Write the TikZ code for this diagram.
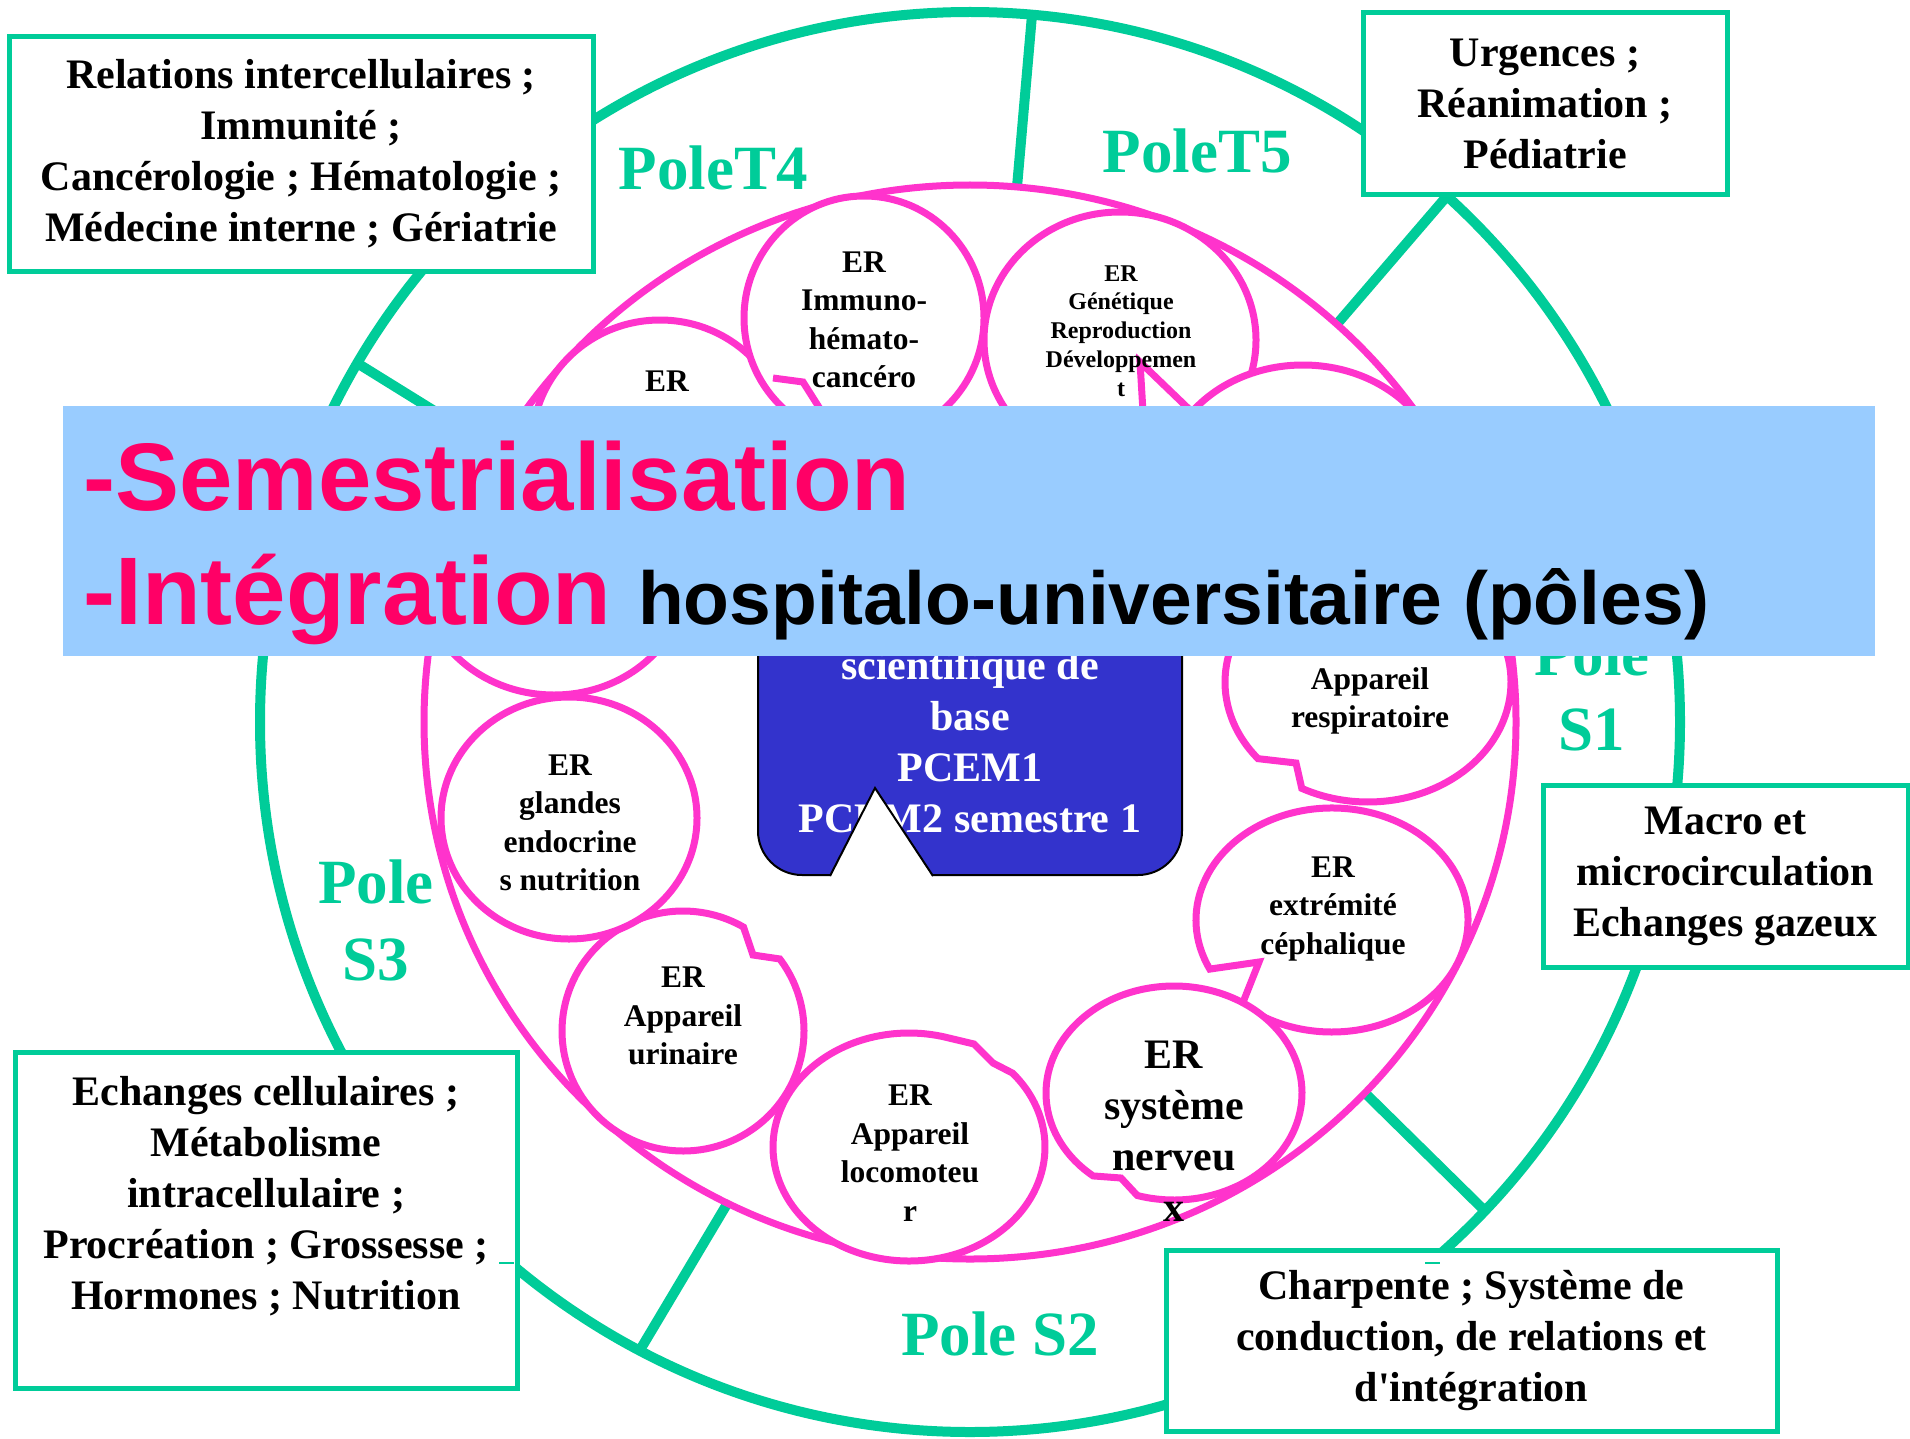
\documentclass[tikz,border=0pt]{standalone}
\usepackage{fontspec}
\setmainfont{Liberation Serif}[Ligatures=TeXOff]
\newfontfamily\arialfont{Liberation Sans}
\definecolor{poleg}{RGB}{0,204,153}
\definecolor{mag}{RGB}{255,51,204}
\definecolor{boxblue}{RGB}{51,51,204}
\definecolor{bannerblue}{RGB}{153,204,255}
\definecolor{titlered}{RGB}{255,0,102}
\newcommand\mybig{\fontsize{21}{25.5}\selectfont\bfseries}
\newcommand\mymed{\fontsize{15.75}{19.25}\selectfont\bfseries}
\newcommand\mysmall{\fontsize{12}{14.4}\selectfont\bfseries}
\newcommand\mypole{\fontsize{31.5}{38.5}\selectfont\bfseries}
\tikzset{
  gline/.style={draw=poleg, line width=5pt},
  ring/.style={draw=mag, line width=3.5pt},
  bub/.style={draw=mag, line width=3.5pt, fill=white},
  gbox/.style={draw=poleg, line width=2.5pt, fill=white, inner sep=0pt, align=center, font=\mybig},
  poletxt/.style={text=poleg, font=\mypole, inner sep=0pt, anchor=base},
  ertxt/.style={font=\mymed, align=center, inner sep=0pt},
  ersmall/.style={font=\mysmall, align=center, inner sep=0pt},
  erbig/.style={font=\mybig, align=center, inner sep=0pt},
}
\begin{document}
\begin{tikzpicture}[x=0.5pt,y=-0.5pt]
\useasboundingbox (0,0) rectangle (1910,1439);
\fill[white] (0,0) rectangle (1910,1439);

% outer green circle and dividers
\coordinate (c) at (970,722);
\draw[gline] (c) circle[radius=710];
\coordinate (o1) at (1032,15);   \coordinate (i1) at (1017,187);
\coordinate (o2) at (357,363);   \coordinate (i2) at (499,451);
\coordinate (o3) at (1447,196);  \coordinate (i3) at (1337,324);
\coordinate (o4) at (1485,1211); \coordinate (i4) at (1364,1092);
\coordinate (o5) at (640,1350);  \coordinate (i5) at (727,1204);
\draw[gline] (o1) -- (i1);
\draw[gline] (o2) -- (i2);
\draw[gline] (o3) -- (i3);
\draw[gline] (o4) -- (i4);
\draw[gline] (o5) -- (i5);

% magenta ring
\draw[ring] (c) ellipse[x radius=546, y radius=537];

% bubbles
\path[bub] (554,575) ellipse[x radius=133, y radius=120];
\path[bub] (660,445) ellipse[x radius=128, y radius=125];
\path[bub] (864,318) ellipse[x radius=120, y radius=122];
\path[bub] (1120,340) ellipse[x radius=136, y radius=128];
\path[bub] (1303,485) ellipse[x radius=140, y radius=120];
\fill[white] (1140,362) -- (1143,412) -- (1192,412) -- cycle;
\draw[mag, line width=3.5pt, line join=miter] (1143,412) -- (1140,362) -- (1192,412);
\draw[mag, line width=3.5pt] (773,378) -- (803,382) -- (822,412);
\path[bub] (1368,682) ++(140.3:143 and 120) arc[start angle=140.3, end angle=477.6, x radius=143, y radius=120] -- (1296,763) -- cycle;
\path[bub] (1332,920) ++(154:136 and 112) arc[start angle=154, end angle=480, x radius=136, y radius=112] -- (1232,1030) -- (1259,962) -- cycle;
\path[bub] (1174,1093) ++(129.2:128 and 107) arc[start angle=129.2, end angle=466.7, x radius=128, y radius=107] -- (1121,1178) -- cycle;
\path[bub] (909,1147) ++(-40.4:136 and 114) arc[start angle=-40.4, end angle=287, x radius=136, y radius=114] -- (974,1044) -- (993,1063) -- cycle;
\path[bub] (683,1031) ++(-36.9:121 and 120) arc[start angle=-36.9, end angle=300, x radius=121, y radius=120] -- (753,955) -- cycle;
\path[bub] (569,818) ellipse[x radius=128, y radius=121];

% bubble texts
\node[ertxt] (erTL) at (667,381) {ER};
\node[ertxt] (erImm) at (864,320) {ER\\Immuno-\\hémato-\\cancéro};
\node[ersmall] (erGen) at (1121,331) {ER\\Génétique\\Reproduction\\Développemen\\t};
\node[ertxt] (erResp) at (1370,701) {Appareil\\respiratoire};
\node[ertxt] (erExt) at (1333,909) {ER\\extrémité\\céphalique};
\node[erbig] (erSys) at (1174,1131) {ER\\système\\nerveu\\x};
\node[ertxt] (erLoc) at (910,1153) {ER\\Appareil\\locomoteu\\r};
\node[ertxt] (erUri) at (683,1016) {ER\\Appareil\\urinaire};
\node[ertxt] (erGla) at (570,823) {ER\\glandes\\endocrine\\s nutrition};

% central blue box
\node[draw=black, line width=1pt, fill=boxblue, rounded corners=22pt, minimum width=212pt, minimum height=157.5pt, inner sep=0pt] (core) at (970,717.5) {};
\node[erbig, text=white] (coreTxt) at (970,741) {scientifique de\\base\\PCEM1\\PCEM2 semestre 1};
\fill[white] (829,879) -- (875,788) -- (934,879) -- cycle;
\draw[black, line width=1pt] (830,876) -- (875,788) -- (933,876);

% pole labels
\node[poletxt] (pT4) at (713,190) {PoleT4};
\node[poletxt] (pT5) at (1197,173) {PoleT5};
\node[poletxt] (pS1a) at (1592,675) {Pole};
\node[poletxt] (pS1b) at (1592,750) {S1};
\node[poletxt] (pS3a) at (376,903) {Pole};
\node[poletxt] (pS3b) at (376,980) {S3};
\node[poletxt] (pS2) at (1000,1355) {Pole S2};

% green boxes
\node[gbox, minimum width=292pt, minimum height=117pt] (boxA) at (301,154)
  {Relations intercellulaires ;\\Immunité ;\\Cancérologie ; Hématologie ;\\Médecine interne ; Gériatrie};
\node[gbox, minimum width=182pt, minimum height=91pt] (boxB) at (1545,104)
  {Urgences ;\\Réanimation ;\\Pédiatrie};
\node[gbox, minimum width=182.5pt, minimum height=91pt] (boxC) at (1725.5,876)
  {Macro et\\microcirculation\\Echanges gazeux};
\node[gbox, minimum width=251pt, minimum height=168pt] (boxD) at (266,1220) {};
\node[erbig] (boxDtxt) at (266,1196)
  {Echanges cellulaires ;\\Métabolisme\\intracellulaire ;\\Procréation ; Grossesse ;\\Hormones ; Nutrition};
\node[gbox, minimum width=305.5pt, minimum height=90.5pt] (boxE) at (1471.5,1340.5)
  {Charpente ; Système de\\conduction, de relations et\\d'intégration};
\draw[poleg, line width=0.6pt] (499,1263) -- (514,1263);
\draw[poleg, line width=0.6pt] (1425,1263) -- (1440,1263);

% banner
\node[fill=bannerblue, minimum width=906pt, minimum height=125pt, inner sep=0pt] (banner) at (969,531) {};
\node[anchor=base west, inner sep=0pt, font=\arialfont\bfseries\fontsize{48}{56}\selectfont, text=titlered] (t1) at (83,510) {-Semestrialisation};
\node[anchor=base west, inner sep=0pt, font=\arialfont\bfseries\fontsize{48}{56}\selectfont] (t2) at (83,624)
  {\textcolor{titlered}{-Intégration} {\fontsize{37.5}{44}\selectfont hospitalo-universitaire (pôles)}};
\end{tikzpicture}
\end{document}
